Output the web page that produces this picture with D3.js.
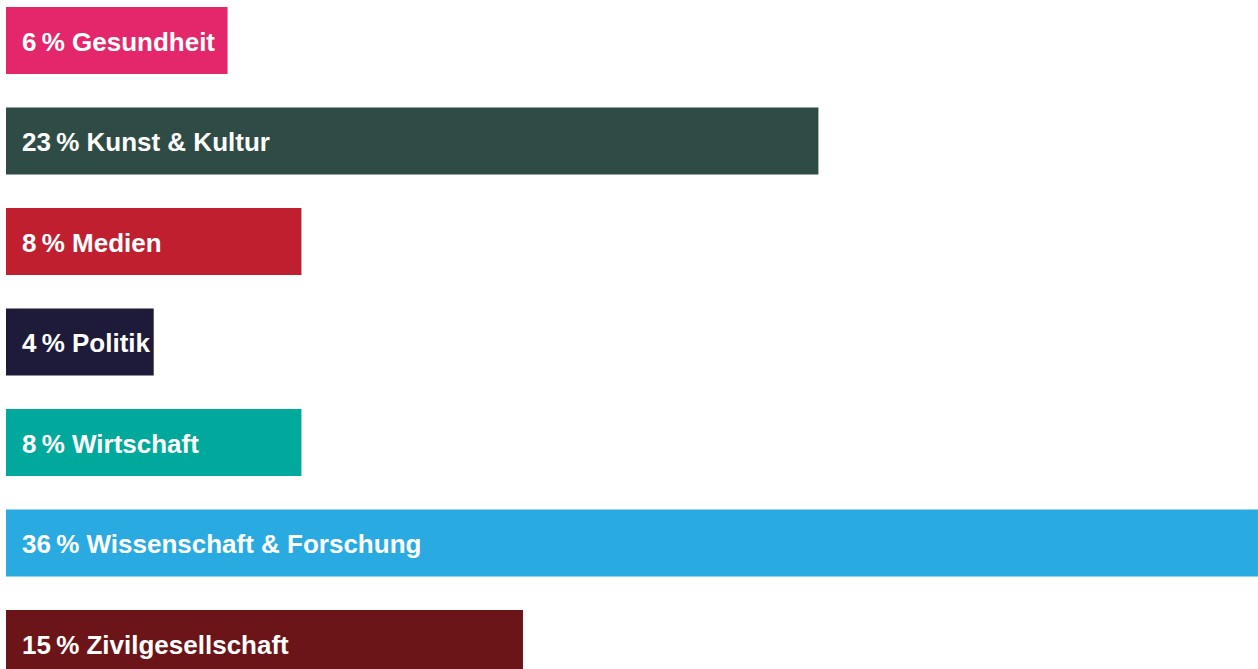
<!DOCTYPE html>
<html>
<head>
<meta charset="utf-8">
<script src="https://cdn.jsdelivr.net/npm/d3@7"></script>
<style>
  html, body { margin: 0; padding: 0; background: #fff; overflow: hidden; }
  svg { display: block; }
</style>
</head>
<body>
<svg id="chart" width="1258" height="669"></svg>
<script>
// Share of entries per field (percent); labels show the rounded value
const categories = ["Gesundheit", "Kunst & Kultur", "Medien", "Politik", "Wirtschaft", "Wissenschaft & Forschung", "Zivilgesellschaft"];
const shares = [6.3, 23.1, 8.4, 4.2, 8.4, 35.6, 14.7];
const colors = ["#E4276A", "#2F4B45", "#C01F30", "#1E1A3A", "#00A99B", "#29ABE2", "#6B1518"];

const svg = d3.select("#chart");
const W = 1258;

const x = d3.scaleLinear().domain([0, d3.max(shares)]).range([6, W]);
// 67px bars on a 100.5px step
const y = d3.scaleBand().domain(categories).range([7, 7 + 100.5 * 6 + 67]).paddingInner(33.5 / 100.5).paddingOuter(0);

const data = categories.map((c, i) => ({ name: c, value: shares[i], color: colors[i] }));

const g = svg.selectAll("g.bar").data(data).join("g").attr("class", "bar");

g.append("rect")
  .attr("x", x(0))
  .attr("y", d => y(d.name))
  .attr("width", d => x(d.value) - x(0))
  .attr("height", y.bandwidth())
  .attr("fill", d => d.color);

g.append("text")
  .attr("x", 22)
  .attr("y", d => y(d.name) + y.bandwidth() / 2 + 10)
  .attr("fill", "#fff")
  .attr("font-family", "'Liberation Sans', Arial, Helvetica, sans-serif")
  .attr("font-weight", "bold")
  .attr("font-size", 26)
  .text(d => `${Math.round(d.value)}\u202F% ${d.name}`);
</script>
</body>
</html>
